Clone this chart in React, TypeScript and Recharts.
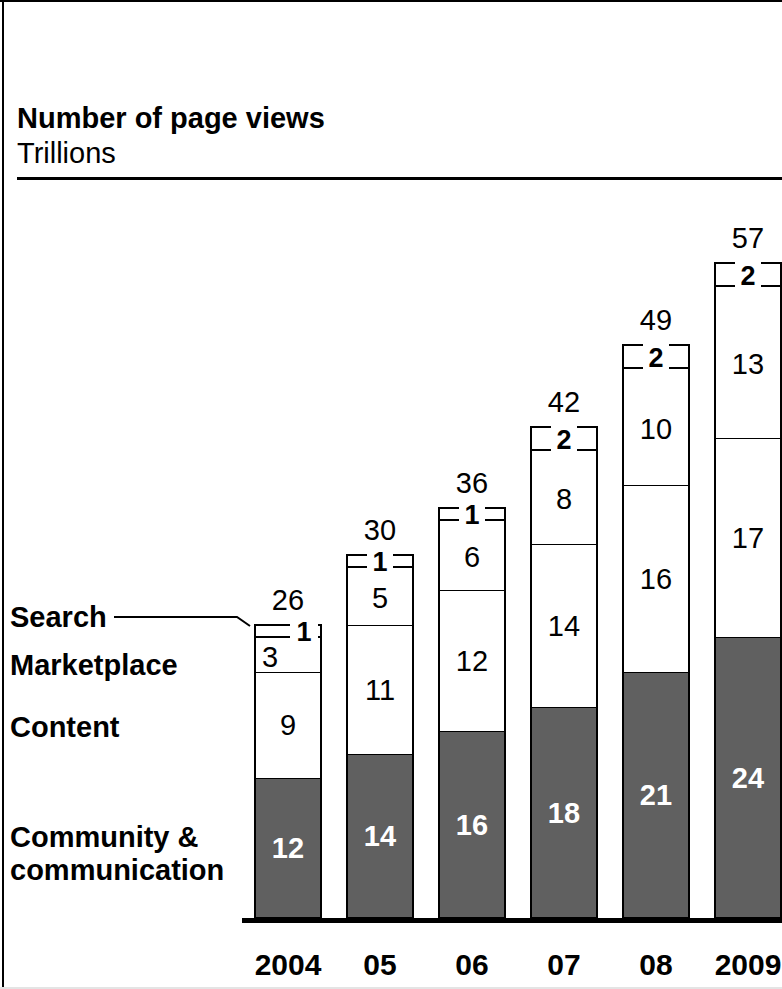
import React from 'react';
import { BarChart, Bar, XAxis, YAxis, ReferenceLine } from 'recharts';

const years = ['2004', '05', '06', '07', '08', '2009'];
const community = [12, 14, 16, 18, 21, 24];
const content = [9, 11, 12, 14, 16, 17];
const marketplace = [3, 5, 6, 8, 10, 13];
const search = [1, 1, 1, 2, 2, 2];
const totals = [26, 30, 36, 42, 49, 57];
const seriesLabels = ['Search', 'Marketplace', 'Content', 'Community &', 'communication'];

const data = years.map((y, i) => ({
  year: y,
  community: community[i],
  content: content[i],
  marketplace: marketplace[i],
  search: search[i],
  total: totals[i],
}));

const FONT = '"Liberation Sans", Arial, Helvetica, sans-serif';
const FS = 29;

const box = (p: any) => {
  const x = Math.round(p.x);
  const w = Math.round(p.x + p.width) - x;
  const t = Math.round(p.y);
  const b = Math.round(p.y + p.height);
  return { x, w, t, b, h: b - t };
};

const CommunityShape = (p: any) => {
  const { x, w, t, h } = box(p);
  return (
    <g>
      <rect x={x} y={t} width={w} height={h} fill="#606060" stroke="#000" strokeWidth={2} />
      <text x={x + w / 2} y={t + h / 2 + 10} textAnchor="middle" fill="#fff" fontWeight="bold" fontSize={FS} fontFamily={FONT}>
        {p.payload.community}
      </text>
    </g>
  );
};

const ContentShape = (p: any) => {
  const { x, w, t, b, h } = box(p);
  return (
    <g>
      <rect x={x} y={t} width={w} height={h} fill="#fff" />
      <path d={`M${x},${b} L${x},${t} L${x + w},${t} L${x + w},${b}`} fill="none" stroke="#000" strokeWidth={2} />
      <text x={x + w / 2} y={t + h / 2 + 10} textAnchor="middle" fill="#000" fontSize={FS} fontFamily={FONT}>
        {p.payload.content}
      </text>
    </g>
  );
};

const MarketShape = (p: any) => {
  const { x, w, t, b, h } = box(p);
  const dx = h < 45 ? -18 : 0;
  return (
    <g>
      <rect x={x} y={t} width={w} height={h} fill="#fff" />
      <path d={`M${x},${b} L${x},${t} M${x + w},${t} L${x + w},${b}`} fill="none" stroke="#000" strokeWidth={2} />
      <text x={x + w / 2 + dx} y={t + h / 2 + 12} textAnchor="middle" fill="#000" fontSize={FS} fontFamily={FONT}>
        {p.payload.marketplace}
      </text>
    </g>
  );
};

const SearchShape = (p: any) => {
  const { x, w, t, b, h } = box(p);
  const crowded = p.payload.marketplace < 4;
  const cx = x + w / 2 + (crowded ? 16 : 0);
  const g = crowded ? 14 : 13;
  return (
    <g>
      <rect x={x} y={t} width={w} height={h} fill="#fff" />
      <path
        d={`M${x},${b} L${x},${t} L${cx - g},${t} M${cx + g},${t} L${x + w},${t} L${x + w},${b} M${x},${b} L${cx - g},${b} M${cx + g},${b} L${x + w},${b}`}
        fill="none"
        stroke="#000"
        strokeWidth={2}
      />
      <text x={cx} y={t + h / 2 + 10} textAnchor="middle" fill="#000" fontWeight="bold" fontSize={27} fontFamily={FONT}>
        {p.payload.search}
      </text>
      <text x={x + w / 2} y={t - 15} textAnchor="middle" fill="#000" fontSize={FS} fontFamily={FONT}>
        {p.payload.total}
      </text>
    </g>
  );
};

const YearTick = (p: any) => {
  const { x, y, payload } = p;
  return (
    <text x={x} y={y + 57} textAnchor="middle" fill="#000" fontWeight="bold" fontSize={30} fontFamily={FONT}>
      {payload.value}
    </text>
  );
};

const BaseLine = (p: any) => {
  const { x1, y1, x2 } = p;
  return <rect x={x1} y={Math.round(y1)} width={x2 - x1} height={5} fill="#000" />;
};

export default function App() {
  return (
    <div style={{ position: 'absolute', left: 0, top: 0, width: 782, height: 989, overflow: 'hidden', background: '#fff' }}>
      <BarChart width={800} height={989} data={data} margin={{ top: 216, right: 6, bottom: 11, left: 242 }} barSize={66}>
        <XAxis dataKey="year" axisLine={false} tickLine={false} tickSize={0} tickMargin={0} height={60} tick={<YearTick />} interval={0} />
        <YAxis hide domain={[0, 60]} />
        <Bar dataKey="community" stackId="a" isAnimationActive={false} shape={<CommunityShape />} />
        <Bar dataKey="content" stackId="a" isAnimationActive={false} shape={<ContentShape />} />
        <Bar dataKey="marketplace" stackId="a" isAnimationActive={false} shape={<MarketShape />} />
        <Bar dataKey="search" stackId="a" isAnimationActive={false} shape={<SearchShape />} />
        <ReferenceLine y={0} shape={<BaseLine />} />
      </BarChart>
      <svg width={782} height={989} style={{ position: 'absolute', left: 0, top: 0, pointerEvents: 'none' }}>
        <rect x={0} y={0} width={782} height={2} fill="#000" />
        <rect x={2} y={0} width={2} height={989} fill="#000" />
        <rect x={0} y={987} width={782} height={2} fill="#e4e4e4" />
        <text x={17} y={128} fontWeight="bold" fontSize={FS} fontFamily={FONT} fill="#000">Number of page views</text>
        <text x={17} y={163} fontSize={FS} fontFamily={FONT} fill="#000">Trillions</text>
        <rect x={17} y={177} width={765} height={3} fill="#000" />
        <text x={10} y={627} fontWeight="bold" fontSize={FS} fontFamily={FONT} fill="#000">{seriesLabels[0]}</text>
        <text x={10} y={675} fontWeight="bold" fontSize={FS} fontFamily={FONT} fill="#000">{seriesLabels[1]}</text>
        <text x={10} y={737} fontWeight="bold" fontSize={FS} fontFamily={FONT} fill="#000">{seriesLabels[2]}</text>
        <text x={10} y={847} fontWeight="bold" fontSize={FS} fontFamily={FONT} fill="#000">{seriesLabels[3]}</text>
        <text x={10} y={880} fontWeight="bold" fontSize={FS} fontFamily={FONT} fill="#000">{seriesLabels[4]}</text>
        <path d="M114,617 L237,617 L250,626" fill="none" stroke="#000" strokeWidth={2} />
      </svg>
    </div>
  );
}
